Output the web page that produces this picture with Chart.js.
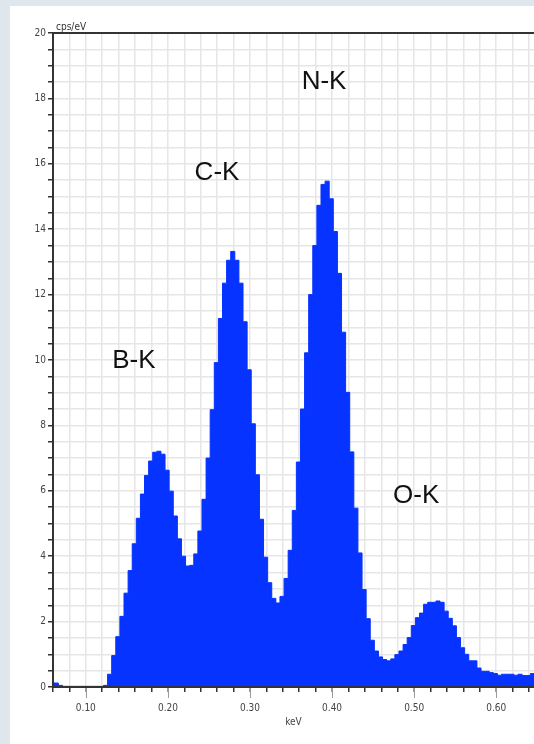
<!DOCTYPE html>
<html>
<head>
<meta charset="utf-8">
<title>EDS spectrum</title>
<script src="https://cdn.jsdelivr.net/npm/chart.js@4.4.0/dist/chart.umd.min.js"></script>
<style>
  html, body { margin: 0; padding: 0; background: #dfe6ec; overflow: hidden; }
  #panel { position: absolute; left: 10px; top: 6px; width: 524px; height: 738px; background: #fff; }
  canvas { display: block; }
</style>
</head>
<body>
<div id="panel"><canvas id="chart" width="524" height="738"></canvas></div>
<script>
// spectrum channels: left edge of the first channel and channel width (keV)
const binStart = 0.0565;
const binWidth = 0.005;

// cps/eV per channel
const counts = [
  0.13, 0.12, 0.05, 0.02, 0.02, 0.02, 0.02, 0.02, 0.02, 0.02,
  0.02, 0.02, 0.02, 0.05, 0.39, 0.96, 1.54, 2.16, 2.87, 3.56,
  4.38, 5.16, 5.90, 6.47, 6.91, 7.18, 7.21, 7.12, 6.63, 5.99,
  5.23, 4.53, 4.00, 3.70, 3.72, 4.07, 4.77, 5.74, 7.00, 8.48,
  9.92, 11.27, 12.35, 13.05, 13.32, 13.05, 12.35, 11.17, 9.70, 8.05,
  6.49, 5.13, 3.97, 3.19, 2.71, 2.57, 2.77, 3.32, 4.18, 5.40,
  6.88, 8.50, 10.22, 12.00, 13.50, 14.73, 15.37, 15.47, 14.93, 13.93,
  12.65, 10.85, 9.01, 7.19, 5.47, 4.10, 2.98, 2.09, 1.43, 1.10,
  0.92, 0.84, 0.80, 0.86, 0.99, 1.10, 1.30, 1.51, 1.88, 2.12,
  2.26, 2.53, 2.59, 2.59, 2.63, 2.59, 2.32, 2.10, 1.87, 1.51,
  1.20, 1.00, 0.80, 0.80, 0.58, 0.48, 0.48, 0.44, 0.41, 0.36,
  0.39, 0.39, 0.39, 0.36, 0.39, 0.35, 0.35, 0.41
];

const xMajorTicks = [0.10, 0.20, 0.30, 0.40, 0.50, 0.60];
const yMajorTicks = [0, 2, 4, 6, 8, 10, 12, 14, 16, 18, 20];

const peakNames = ['B-K', 'C-K', 'N-K', 'O-K'];
const peakEnergy = [0.1585, 0.2598, 0.3902, 0.5024];
const peakHeight = [9.97, 15.72, 18.52, 5.85];

const points = counts.map((c, i) => ({ x: binStart + i * binWidth, y: c }));
points.push({ x: binStart + counts.length * binWidth, y: counts[counts.length - 1] });

const isMajor = (v, list) => list.some(t => Math.abs(t - v) < 1e-6);
const smallFont = { family: '"Liberation Sans Narrow", "DejaVu Sans Condensed", sans-serif', size: 10 };

// axis frame, long major ticks, unit label and peak names
const decor = {
  id: 'decor',
  afterDatasetsDraw(chart) {
    const { ctx, chartArea: a, scales: { x, y } } = chart;
    ctx.save();
    ctx.strokeStyle = '#333';
    ctx.lineWidth = 2;
    ctx.beginPath();
    ctx.moveTo(a.left, a.top); ctx.lineTo(a.right, a.top);
    ctx.moveTo(a.left, a.top); ctx.lineTo(a.left, a.bottom);
    ctx.moveTo(a.left - 1, a.bottom); ctx.lineTo(a.right, a.bottom);
    ctx.stroke();

    ctx.strokeStyle = '#9a9a9a';
    ctx.lineWidth = 1;
    ctx.beginPath();
    xMajorTicks.forEach(v => {
      const px = Math.round(x.getPixelForValue(v)) + 0.5;
      ctx.moveTo(px, a.bottom + 1);
      ctx.lineTo(px, a.bottom + 11);
    });
    ctx.stroke();

    ctx.fillStyle = '#333';
    ctx.font = '10px ' + smallFont.family;
    ctx.textAlign = 'left';
    ctx.textBaseline = 'bottom';
    ctx.fillText('cps/eV', a.left + 3, a.top - 1);

    ctx.fillStyle = '#111';
    ctx.font = '26px "Liberation Sans", Arial, sans-serif';
    ctx.textAlign = 'center';
    ctx.textBaseline = 'middle';
    peakNames.forEach((n, i) => {
      ctx.fillText(n, x.getPixelForValue(peakEnergy[i]), y.getPixelForValue(peakHeight[i]));
    });
    ctx.restore();
  }
};

new Chart(document.getElementById('chart'), {
  type: 'line',
  data: {
    datasets: [{
      data: points,
      stepped: true,
      fill: 'origin',
      backgroundColor: '#0633ff',
      borderColor: '#0633ff',
      borderWidth: 1,
      pointRadius: 0,
      tension: 0
    }]
  },
  options: {
    responsive: false,
    animation: false,
    layout: { padding: { top: 27, left: 0, right: 0, bottom: 0 } },
    plugins: { legend: { display: false }, tooltip: { enabled: false } },
    scales: {
      x: {
        type: 'linear',
        min: 0.06,
        max: 0.646,
        afterFit: s => { s.height = 57; s.paddingLeft = 0; s.paddingRight = 0; },
        grid: {
          color: '#e6e6e6',
          lineWidth: 1.5,
          tickLength: 5,
          tickColor: c => isMajor(c.tick.value, xMajorTicks) ? '#9a9a9a' : '#333'
        },
        border: { color: '#333', width: 2 },
        ticks: {
          stepSize: 0.02,
          includeBounds: false,
          autoSkip: false,
          maxRotation: 0,
          padding: 10,
          color: '#444',
          font: smallFont,
          callback: v => isMajor(v, xMajorTicks) ? v.toFixed(2) : ''
        },
        title: {
          display: true,
          text: 'keV',
          color: '#444',
          font: smallFont,
          padding: { top: 0, bottom: 16 }
        }
      },
      y: {
        min: 0,
        max: 20,
        afterFit: s => { s.width = 43; },
        grid: {
          color: '#e6e6e6',
          lineWidth: 1.5,
          tickLength: 5,
          tickColor: '#333'
        },
        border: { color: '#333', width: 2 },
        ticks: {
          stepSize: 0.5,
          autoSkip: false,
          padding: 2,
          color: '#444',
          font: smallFont,
          callback: v => isMajor(v, yMajorTicks) ? String(v) : ''
        }
      }
    }
  },
  plugins: [decor]
});
</script>
</body>
</html>
